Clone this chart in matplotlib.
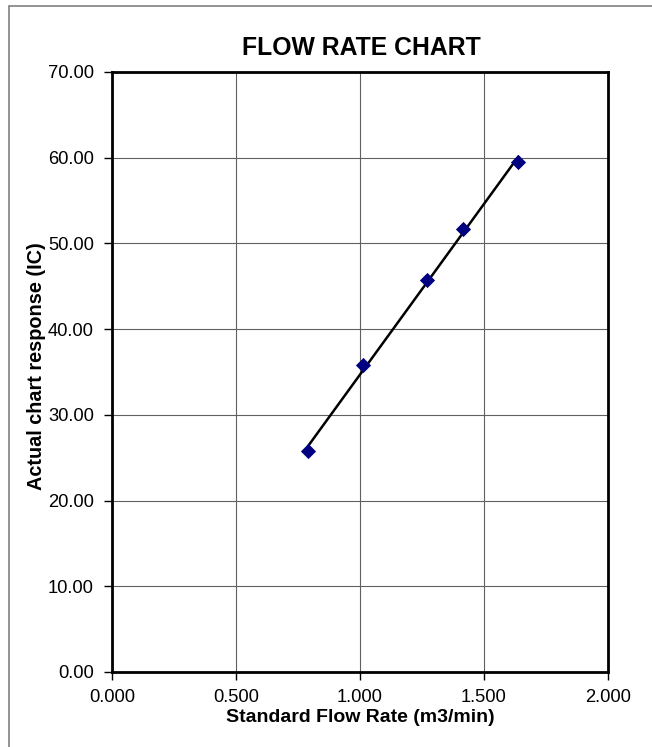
import numpy as np
import matplotlib
matplotlib.use("Agg")
import matplotlib.pyplot as plt
from matplotlib.patches import Rectangle

plt.rcParams['font.family'] = ['Liberation Sans', 'DejaVu Sans']

flow_rate = [0.792, 1.013, 1.269, 1.417, 1.638]
response = [25.78, 35.78, 45.70, 51.65, 59.54]
x_ticks = [0.0, 0.5, 1.0, 1.5, 2.0]
y_ticks = [0, 10, 20, 30, 40, 50, 60, 70]

W, H = 652, 747
fig = plt.figure(figsize=(W / 100, H / 100), dpi=100)
L, R, T, B = 112, 608, 72, 672
ax = fig.add_axes([L / W, 1 - B / H, (R - L) / W, (B - T) / H])

# figure border (gray, left and top visible)
fig.add_artist(Rectangle((9 / W, -0.01), 1.2, 1 - 5.5 / H + 0.01, transform=fig.transFigure,
                         fill=False, edgecolor='#808080', linewidth=1.2))

# trendline
coef = np.polyfit(flow_rate, response, 1)
xs = np.array([min(flow_rate), max(flow_rate)])
ax.plot(xs, np.polyval(coef, xs), color='black', linewidth=1.8, zorder=3)
ax.scatter(flow_rate, response, marker='D', s=60, color='#000080', zorder=4, linewidths=0)

ax.set_xlim(0, 2)
ax.set_ylim(0, 70)
ax.set_xticks(x_ticks)
ax.set_yticks(y_ticks)
ax.set_xticklabels([f"{v:.3f}" for v in x_ticks])
ax.set_yticklabels([f"{v:.2f}" for v in y_ticks])
ax.grid(True, color='#606060', linewidth=0.8)
ax.set_axisbelow(True)
for s in ax.spines.values():
    s.set_linewidth(2)
    s.set_color('black')
ax.tick_params(direction='out', length=6, width=1, labelsize=13.2, colors='black')
ax.tick_params(axis='y', pad=7)
ax.tick_params(axis='x', pad=6)

fig.text(0.5 * (L + R) / W + 0.002, 1 - 47.7 / H, 'FLOW RATE CHART', fontsize=17.8,
         fontweight='bold', ha='center', va='center')
ax.set_xlabel('Standard Flow Rate (m3/min)', fontsize=14, fontweight='bold', va='center')
ax.xaxis.set_label_coords(0.5, -(718 - B) / (B - T))
ax.set_ylabel('Actual chart response (IC)', fontsize=14.3, fontweight='bold', va='center')
ax.yaxis.set_label_coords(-(L - 37) / (R - L), 0.5 + (372 - 366) / (B - T))

fig.savefig('out.png', dpi=100)
